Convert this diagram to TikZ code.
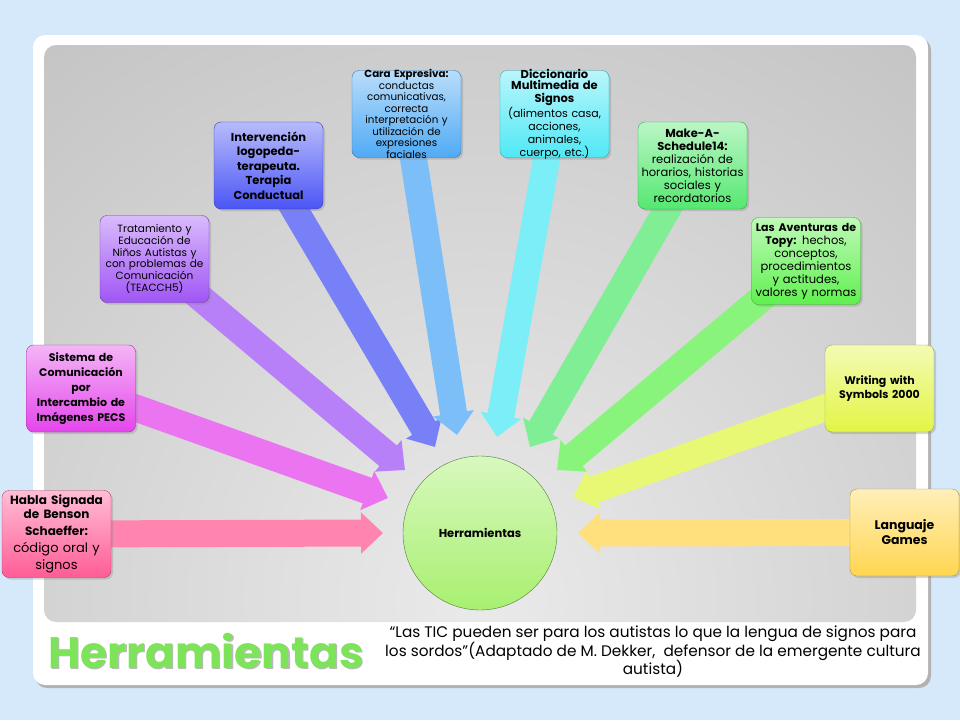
\documentclass[tikz,border=0pt]{standalone}
\usepackage{fontspec}
\setmainfont{Poppins}
\usepackage{tikz}
\usetikzlibrary{shapes,arrows.meta,positioning,shadows,calc,backgrounds}
\usepackage{xcolor}
\definecolor{bgcolor}{RGB}{213, 233, 251}
\definecolor{paneldark}{RGB}{160, 160, 160}
\definecolor{panellight}{RGB}{234, 234, 234}
\definecolor{pinkcolor}{RGB}{255, 92, 150}
\definecolor{magentacolor}{RGB}{228, 70, 235}
\definecolor{violetcolor}{RGB}{160, 85, 245}
\definecolor{bluecolor}{RGB}{75, 85, 245}
\definecolor{skycolor}{RGB}{80, 170, 245}
\definecolor{cyancolor}{RGB}{80, 232, 245}
\definecolor{greencolor}{RGB}{85, 232, 112}
\definecolor{limecolor}{RGB}{96, 240, 80}
\definecolor{yellowcolor}{RGB}{226, 245, 69}
\definecolor{goldcolor}{RGB}{255, 214, 80}
\definecolor{hubcolor}{RGB}{168, 240, 112}
\definecolor{titlecolor}{RGB}{125, 228, 90}
\pgfdeclarelayer{back}
\pgfdeclarelayer{mid}
\pgfsetlayers{back,mid,main}
% bold heading part of a box, at its own size
\newcommand{\headpart}[2]{{\fontsize{#1}{#1}\selectfont\bfseries #2}}

\begin{document}
\begin{tikzpicture}[
    x=1pt, y=-1pt,
    toolbox/.style={rectangle, draw=#1!70!black, rounded corners=7pt, minimum width=109pt, minimum height=87pt,
        text width=104pt, align=center, inner xsep=2pt, inner ysep=1pt, top color=#1!40!white, bottom color=#1,
        drop shadow={opacity=0.3, shadow xshift=2pt, shadow yshift=-2pt}},
    ray/.style={draw=#1!75!white, line width=27pt, -{Triangle[width=40pt,length=22pt]}}
]
    \useasboundingbox (0,0) rectangle (960,720);

    % Panels
    \begin{pgfonlayer}{back}
        \fill[bgcolor] (0,0) rectangle (960,720);
        \fill[black!30, rounded corners=12pt] (35,38) rectangle (931,688);
        \fill[white, rounded corners=12pt] (33,35) rectangle (928,685);
        \begin{scope}
            \clip[rounded corners=12pt] (44,45) rectangle (916,622);
            \shade[inner color=panellight, outer color=paneldark] (-920,-800) rectangle (1880,2000);
        \end{scope}
    \end{pgfonlayer}

    % Hub
    \node[circle, draw=hubcolor!50!black, minimum size=154pt, top color=hubcolor!45!white, bottom color=hubcolor,
        font=\fontsize{11.5}{12}\selectfont\bfseries] (hub) at (480,533) {Herramientas};

    % Tools
    \node[toolbox=pinkcolor, font=\fontsize{13}{17}\selectfont] (habla) at (56.5,534) {
        \headpart{12}{Habla Signada\\de Benson\\Schaeffer:}\\código oral y\\signos
    };
    \node[toolbox=magentacolor, font=\fontsize{11}{15}\selectfont\bfseries] (pecs) at (81,388.5) {
        Sistema de\\Comunicación\\por\\Intercambio de\\Imágenes PECS
    };
    \node[toolbox=violetcolor, font=\fontsize{10.5}{11.8}\selectfont] (teacch) at (154.5,259) {
        Tratamiento y\\Educación de\\Niños Autistas y\\con problemas de\\Comunicación\\(TEACCH5)
    };
    \node[toolbox=bluecolor, font=\fontsize{11.5}{14.5}\selectfont\bfseries] (interv) at (268.5,165.5) {
        Intervención\\logopeda-\\terapeuta.\\Terapia\\Conductual
    };
    \node[toolbox=skycolor, inner ysep=-4pt, font=\fontsize{10.3}{11.5}\selectfont] (cara) at (406.5,114) {
        \headpart{10.3}{Cara Expresiva:}\\conductas\\comunicativas,\\correcta\\interpretación y\\utilización de\\expresiones\\faciales
    };
    \node[toolbox=cyancolor, inner ysep=-3pt, font=\fontsize{11}{13}\selectfont] (dicc) at (554.5,114) {
        \headpart{11.5}{Diccionario\\Multimedia de\\Signos}\\(alimentos casa,\\acciones,\\animales,\\cuerpo, etc.)
    };
    \node[toolbox=greencolor, font=\fontsize{11.5}{13}\selectfont] (make) at (692.5,165.5) {
        \headpart{11.5}{Make-A-\\Schedule14:}\\realización de\\horarios, historias\\sociales y\\recordatorios
    };
    \node[toolbox=limecolor, font=\fontsize{11.5}{13}\selectfont] (topy) at (806,261) {
        \headpart{11}{Las Aventuras de\\Topy:} hechos,\\conceptos,\\procedimientos\\y actitudes,\\valores y normas
    };
    \node[toolbox=yellowcolor, font=\fontsize{11}{13.5}\selectfont\bfseries] (writing) at (879.5,388.5) {
        Writing with\\Symbols 2000
    };
    \node[toolbox=goldcolor, font=\fontsize{12.5}{15}\selectfont\bfseries] (games) at (904.5,532.5) {
        Languaje\\Games
    };

    % Arrow tips round the hub
    \coordinate (tipA) at (383,533);
    \coordinate (tipB) at (388,498);
    \coordinate (tipC) at (405,470);
    \coordinate (tipD) at (435,447);
    \coordinate (tipE) at (457,435);
    \coordinate (tipF) at (497,437);
    \coordinate (tipG) at (530,447);
    \coordinate (tipH) at (557,470);
    \coordinate (tipI) at (573,497);
    \coordinate (tipJ) at (578,533);

    % Arrows
    \begin{pgfonlayer}{mid}
        \draw[ray=pinkcolor] (habla.center) -- (tipA);
        \draw[ray=magentacolor] (pecs.center) -- (tipB);
        \draw[ray=violetcolor] (teacch.center) -- (tipC);
        \draw[ray=bluecolor] (interv.center) -- (tipD);
        \draw[ray=skycolor] (cara.center) -- (tipE);
        \draw[ray=cyancolor] (dicc.center) -- (tipF);
        \draw[ray=greencolor] (make.center) -- (tipG);
        \draw[ray=limecolor] (topy.center) -- (tipH);
        \draw[ray=yellowcolor] (writing.center) -- (tipI);
        \draw[ray=goldcolor] (games.center) -- (tipJ);
    \end{pgfonlayer}

    % Title
    \node[text=black!45, opacity=0.6, font=\fontsize{44}{48}\selectfont\bfseries] (titleshadow) at (207.5,652.5) {Herramientas};
    \node[text=titlecolor, font=\fontsize{44}{48}\selectfont\bfseries] (title) at (206,651) {Herramientas};

    % Quote
    \node[align=center, font=\fontsize{15.3}{18.5}\selectfont] (quote) at (653,652) {
        “Las TIC pueden ser para los autistas lo que la lengua de signos para\\
        los sordos”(Adaptado de M. Dekker,\ \ defensor de la emergente cultura\\
        autista)
    };
\end{tikzpicture}
\end{document}
